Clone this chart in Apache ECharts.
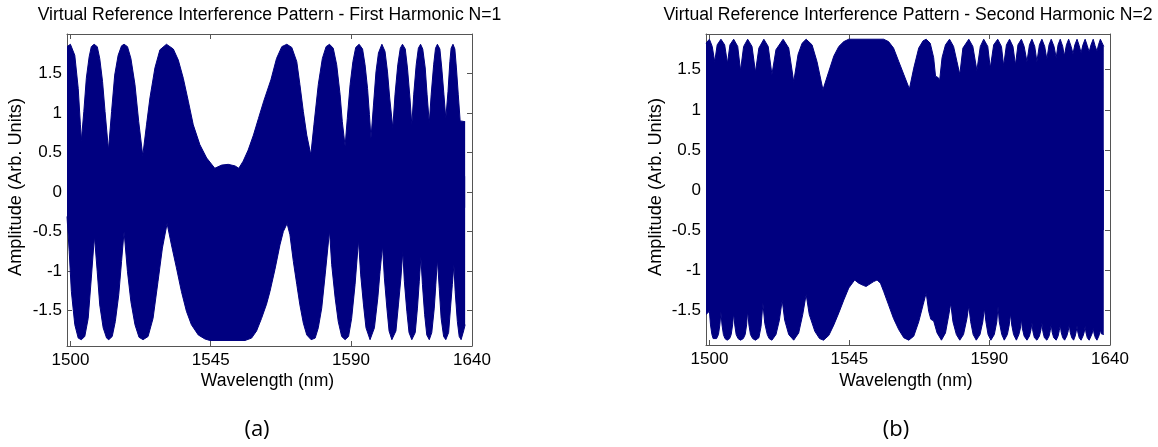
<!DOCTYPE html>
<html><head><meta charset="utf-8">
<script src="https://cdn.jsdelivr.net/npm/echarts@6/dist/echarts.min.js"></script>
<style>html,body{margin:0;padding:0;background:#fff}#c{width:1158px;height:447px}</style>
</head><body><div id="c"></div>
<script>
// ---------- tick labels ----------
const xTickPositions = [1500, 1545, 1590, 1628.8];
const xTickLabels = ['1500', '1545', '1590', '1640'];
const yTicks = [-1.5, -1, -0.5, 0, 0.5, 1, 1.5];

// ---------- texts ----------
const titleA = 'Virtual Reference Interference Pattern - First Harmonic N=1';
const titleB = 'Virtual Reference Interference Pattern - Second Harmonic N=2';
const xName = 'Wavelength (nm)';
const yName = 'Amplitude (Arb. Units)';
const panelLabels = ['(a)', '(b)'];

// ---------- panel (a): first harmonic envelope ----------
const aUpperX = [1498.9,1500.0,1501.4,1502.5,1503.2,1503.5,1504.3,1505.1,1506.0,1506.7,1507.6,1508.6,1509.4,1510.3,1511.1,1512.2,
  1513.2,1514.2,1515.3,1516.4,1517.2,1518.3,1519.4,1520.7,1521.9,1523.2,1524.4,1525.5,1527.1,1528.7,1530.8,1533.0,1534.6,1536.2,
  1537.8,1539.4,1541.5,1543.7,1546.3,1548.5,1550.6,1552.8,1554.0,1555.4,1557.0,1558.7,1560.3,1562.0,1564.3,1566.1,1567.8,1569.4,
  1571.0,1572.6,1573.6,1574.7,1575.8,1577.1,1578.1,1579.5,1580.8,1582.0,1583.1,1584.3,1585.4,1586.5,1587.2,1588.1,
  1588.8,1589.7,1590.6,1591.5,1592.6,1593.7,1594.5,1595.3,1595.9,1596.4,1597.2,1598.0,1598.8,1599.9,1600.9,1601.7,1602.4,1603.4,
  1604.1,1605.0,1605.8,1606.5,1607.4,1608.1,1608.9,1609.5,1610.1,1610.9,1611.6,1612.3,1613.0,1613.8,1614.4,1615.1,
  1615.7,1616.5,1617.1,1617.7,1618.5,1619.1,1619.8,1620.4,1621.1,1621.7,1622.1,1622.7,1623.3,1623.8,1624.4,1625.0,1626.6];
const aUpperY = [1.84,1.87,1.73,1.31,0.85,0.65,1.02,1.44,1.71,1.84,1.87,1.84,1.69,1.40,1.02,0.53,
  1.02,1.48,1.73,1.85,1.87,1.84,1.69,1.36,0.89,0.46,0.85,1.19,1.57,1.80,1.87,1.81,1.67,1.44,
  1.15,0.85,0.60,0.43,0.30,0.34,0.35,0.33,0.30,0.39,0.53,0.72,0.93,1.15,1.42,1.69,1.84,1.87,
  1.83,1.65,1.36,1.02,0.72,0.47,0.85,1.36,1.69,1.84,1.87,1.82,1.61,1.23,0.89,0.58,
  0.93,1.36,1.65,1.83,1.87,1.81,1.61,1.31,0.98,0.68,1.10,1.52,1.76,1.87,1.78,1.52,1.19,0.81,
  1.23,1.61,1.82,1.87,1.81,1.57,1.19,0.85,1.23,1.61,1.82,1.87,1.81,1.57,1.23,0.87,
  1.23,1.61,1.82,1.87,1.81,1.57,1.23,0.93,1.27,1.65,1.82,1.87,1.81,1.57,1.23,0.90,0.89];
const aLowerX = [1498.9,1499.6,1500.3,1501.4,1502.5,1503.5,1504.6,1505.7,1506.7,1507.7,1508.6,1509.4,1510.5,1511.6,1512.3,1513.4,
  1514.4,1515.5,1516.4,1517.2,1518.3,1519.4,1520.7,1522.0,1523.3,1524.9,1526.5,1528.1,1529.5,1531.0,1532.4,1534.0,1535.6,1537.2,
  1538.8,1541.0,1543.1,1544.7,1556.0,1558.1,1559.7,1561.3,1562.9,1564.0,1565.6,1567.2,1568.3,1569.5,
  1570.4,1571.5,1572.6,1573.6,1574.7,1575.8,1577.2,1578.5,1579.5,1580.6,1581.7,1583.1,
  1583.8,1584.9,1585.9,1587.0,1588.1,1589.2,1590.2,1591.3,1592.4,
  1593.1,1594.0,1594.8,1596.1,1597.5,1598.6,1599.3,1600.1,
  1600.7,1601.5,1602.2,1603.1,1604.4,1605.2,1606.0,1606.6,
  1607.1,1607.9,1608.6,1609.5,1610.6,1611.3,1611.9,1612.4,
  1612.9,1613.6,1614.3,1615.1,1615.9,1616.7,1617.2,1617.7,
  1618.3,1618.9,1619.7,1620.4,1621.3,1621.9,1622.5,1623.0,
  1623.4,1624.1,1624.7,1625.3,1626.1,1626.6];
const aLowerY = [-0.31,-0.75,-1.26,-1.68,-1.85,-1.87,-1.83,-1.60,-1.09,-0.56,-1.01,-1.43,-1.72,-1.85,-1.87,-1.83,
  -1.64,-1.30,-0.88,-0.50,-1.01,-1.39,-1.68,-1.84,-1.87,-1.83,-1.60,-1.13,-0.71,-0.40,-0.67,-0.96,-1.26,-1.51,
  -1.68,-1.81,-1.86,-1.88,-1.88,-1.85,-1.76,-1.60,-1.42,-1.26,-0.98,-0.67,-0.50,-0.40,
  -0.54,-0.88,-1.17,-1.43,-1.66,-1.81,-1.87,-1.85,-1.72,-1.47,-1.05,-0.49,
  -0.92,-1.34,-1.64,-1.83,-1.87,-1.83,-1.60,-1.17,-0.61,
  -1.05,-1.43,-1.72,-1.87,-1.72,-1.34,-1.01,-0.68,
  -1.09,-1.47,-1.76,-1.87,-1.76,-1.43,-1.09,-0.75,
  -1.13,-1.51,-1.78,-1.87,-1.78,-1.47,-1.13,-0.82,
  -1.17,-1.55,-1.81,-1.87,-1.78,-1.47,-1.17,-0.85,
  -1.22,-1.60,-1.83,-1.87,-1.78,-1.47,-1.17,-0.92,
  -1.26,-1.64,-1.83,-1.87,-1.76,-1.68];

// ---------- panel (b): second harmonic envelope ----------
const bUpperX = [1498.9,1500.0,1500.9,1501.7,1502.5,1503.7,1504.9,1505.8,1506.6,1507.8,1509.1,1510.0,1511.0,1512.3,1513.7,1514.8,
  1515.9,1517.5,1518.9,1520.1,1521.4,1523.7,1525.5,1527.1,1528.5,1529.8,1531.1,1533.0,1534.6,1536.5,1538.4,1540.0,1541.6,1543.2,
  1544.8,1556.0,1557.6,1559.2,1560.9,1562.5,1564.3,1565.7,1567.3,1568.7,1569.7,1571.0,1572.1,1572.7,1573.6,1574.0,1574.8,1575.9,
  1577.2,1578.5,1579.6,1580.5,1581.5,1583.4,1584.7,1586.0,1587.1,1588.2,1589.5,1590.3,1591.4,1592.7,1593.9,1594.6,1595.5,1596.5,
  1597.6,1598.4,1599.2,1600.3,1601.2,1602.1,1602.9,1603.7,1604.6,1605.3,1606.1,1606.9,1607.8,1608.5,1609.2,1609.9,1610.8,1611.5,
  1612.1,1612.8,1613.6,1614.1,1614.8,1615.5,1616.3,1616.9,1617.5,1618.2,1618.9,1619.5,1620.1,1620.8,1621.5,1622.1,1622.7,1623.4,
  1624.0,1624.6,1625.1,1625.7,1626.8];
const bUpperY = [1.83,1.88,1.79,1.60,1.81,1.88,1.81,1.58,1.81,1.88,1.79,1.49,1.79,1.88,1.79,1.47,
  1.77,1.88,1.79,1.44,1.75,1.88,1.77,1.35,1.69,1.83,1.88,1.81,1.60,1.25,1.48,1.67,1.79,1.85,
  1.88,1.88,1.85,1.77,1.60,1.44,1.26,1.52,1.77,1.86,1.88,1.83,1.65,1.42,1.40,1.36,1.65,1.81,
  1.88,1.79,1.60,1.44,1.77,1.88,1.79,1.49,1.79,1.88,1.79,1.52,1.81,1.88,1.79,1.55,1.81,1.88,
  1.79,1.56,1.81,1.88,1.79,1.60,1.81,1.88,1.79,1.60,1.81,1.88,1.79,1.63,1.81,1.88,1.79,1.65,
  1.81,1.88,1.79,1.67,1.81,1.88,1.79,1.70,1.81,1.88,1.80,1.71,1.81,1.88,1.80,1.72,1.81,1.88,
  1.80,1.73,1.81,1.88,1.79];
const bLowerX = [1498.9,1500.0,1500.35,1500.8,1501.2,1501.7,1502.3,1502.9,1503.35,1503.7,1504.05,1504.5,1505.0,1505.7,
  1506.5,1507.0,1507.45,1507.8,1508.15,1508.6,1509.2,1510.0,1510.9,1511.5,1511.95,1512.3,1512.7,1513.2,1513.9,1514.8,
  1515.9,1516.6,1517.2,1517.8,1518.6,1519.2,1520.1,1521.4,1522.5,1523.4,1524.2,1525.5,1527.1,1528.7,1530.0,1531.1,
  1532.1,1533.9,1535.4,1536.7,1538.4,1540.0,1541.6,1543.2,1544.8,1546.7,1548.0,1549.6,1550.4,1551.2,1552.8,1553.9,
  1555.0,1556.0,1557.6,1559.2,1560.9,1562.5,1564.1,1565.7,1567.3,1568.7,1569.7,
  1570.5,1571.2,1572.1,1573.2,1574.6,1575.9,1576.9,1577.6,1578.3,1579.4,1580.5,
  1581.7,1582.8,1583.4,1584.0,1584.8,1585.8,
  1587.0,1587.9,1588.4,1588.9,1589.6,1590.5,
  1591.6,1592.4,1592.8,1593.2,1594.0,1594.8,
  1595.8,1596.4,1596.8,1597.2,1597.8,1598.7,
  1599.5,1600.0,1600.3,1600.6,1601.2,1602.1,
  1602.9,1603.4,1603.7,1604.0,1604.5,1605.3,
  1606.1,1606.6,1606.9,1607.2,1607.7,1608.5,
  1609.2,1609.6,1609.9,1610.2,1610.7,1611.5,
  1612.1,1612.5,1612.8,1613.1,1613.6,1614.2,
  1614.9,1615.4,1615.7,1616.0,1616.5,1617.1,
  1617.6,1617.95,1618.2,1618.45,1618.9,1619.5,
  1620.1,1620.5,1620.8,1621.1,1621.5,1622.1,
  1622.7,1623.1,1623.4,1623.7,1624.1,1624.6,
  1625.2,1625.5,1625.7,1626.0,1626.8];
const bLowerY = [-1.55,-1.51,-1.68,-1.80,-1.85,-1.87,-1.85,-1.80,-1.68,-1.52,-1.68,-1.80,-1.85,-1.87,
  -1.85,-1.80,-1.68,-1.53,-1.68,-1.80,-1.85,-1.87,-1.85,-1.80,-1.68,-1.50,-1.68,-1.80,-1.85,-1.87,
  -1.84,-1.70,-1.41,-1.66,-1.80,-1.85,-1.87,-1.80,-1.62,-1.37,-1.62,-1.80,-1.87,-1.78,-1.55,-1.30,
  -1.55,-1.76,-1.85,-1.87,-1.81,-1.68,-1.53,-1.37,-1.22,-1.12,-1.16,-1.19,-1.20,-1.18,-1.14,-1.12,
  -1.16,-1.26,-1.43,-1.60,-1.74,-1.84,-1.87,-1.82,-1.64,-1.43,-1.28,
  -1.51,-1.61,-1.63,-1.78,-1.87,-1.78,-1.57,-1.41,-1.64,-1.80,-1.87,
  -1.80,-1.60,-1.44,-1.64,-1.80,-1.87,
  -1.80,-1.64,-1.47,-1.64,-1.80,-1.87,
  -1.80,-1.64,-1.45,-1.64,-1.80,-1.87,
  -1.80,-1.68,-1.54,-1.68,-1.80,-1.87,
  -1.80,-1.72,-1.60,-1.72,-1.82,-1.87,
  -1.82,-1.74,-1.65,-1.76,-1.84,-1.87,
  -1.82,-1.74,-1.65,-1.76,-1.84,-1.87,
  -1.82,-1.75,-1.67,-1.77,-1.84,-1.87,
  -1.82,-1.75,-1.68,-1.77,-1.84,-1.87,
  -1.82,-1.75,-1.67,-1.77,-1.84,-1.87,
  -1.82,-1.76,-1.69,-1.77,-1.84,-1.87,
  -1.82,-1.77,-1.70,-1.78,-1.84,-1.87,
  -1.82,-1.78,-1.72,-1.79,-1.84,-1.87,
  -1.82,-1.78,-1.74,-1.79,-1.80];

// ---------- styling ----------
const NAVY = '#000080';
const AX = '#555';
const FONT = '"Liberation Sans", Arial, sans-serif';
const grids = [
  {left: 67, top: 34, width: 405, height: 312},
  {left: 706, top: 34, width: 404, height: 311}
];
const yRanges = [[-1.95, 2.0], [-1.93, 1.945]];
const xRange = [1498.9, 1628.8];

function pairs(xs, ys) { return xs.map((x, i) => [x, ys[i]]); }
function xLabel(v) {
  let best = 0;
  xTickPositions.forEach((p, i) => { if (Math.abs(p - v) < Math.abs(xTickPositions[best] - v)) best = i; });
  return xTickLabels[best];
}

const xAxes = [], yAxes = [];
grids.forEach((g, gi) => {
  xAxes.push({
    type: 'value', gridIndex: gi, position: 'bottom', min: xRange[0], max: xRange[1],
    axisLine: {show: true, onZero: false, lineStyle: {color: AX, width: 1}},
    axisTick: {show: true, inside: true, length: 5, customValues: xTickPositions, lineStyle: {color: AX}},
    axisLabel: {show: true, customValues: xTickPositions, formatter: xLabel, color: '#000',
      fontFamily: FONT, fontSize: 17, margin: 6},
    splitLine: {show: false}
  });
  xAxes.push({
    type: 'value', gridIndex: gi, position: 'top', min: xRange[0], max: xRange[1],
    axisLine: {show: true, onZero: false, lineStyle: {color: AX, width: 1}},
    axisTick: {show: true, inside: true, length: 5, customValues: xTickPositions, lineStyle: {color: AX}},
    axisLabel: {show: false}, splitLine: {show: false}
  });
  yAxes.push({
    type: 'value', gridIndex: gi, position: 'left', min: yRanges[gi][0], max: yRanges[gi][1],
    axisLine: {show: true, onZero: false, lineStyle: {color: AX, width: 1}},
    axisTick: {show: true, inside: true, length: 5, customValues: yTicks, lineStyle: {color: AX}},
    axisLabel: {show: true, customValues: yTicks, color: '#000', fontFamily: FONT, fontSize: 17, margin: 5},
    splitLine: {show: false}
  });
  yAxes.push({
    type: 'value', gridIndex: gi, position: 'right', min: yRanges[gi][0], max: yRanges[gi][1],
    axisLine: {show: true, onZero: false, lineStyle: {color: AX, width: 1}},
    axisTick: {show: true, inside: true, length: 5, customValues: yTicks, lineStyle: {color: AX}},
    axisLabel: {show: false}, splitLine: {show: false}
  });
});

function band(data, axisIdx, origin) {
  return {
    type: 'line', xAxisIndex: axisIdx, yAxisIndex: axisIdx, data: data,
    symbol: 'none', showSymbol: false, silent: true, animation: false,
    lineStyle: {color: NAVY, width: 1}, itemStyle: {color: NAVY},
    areaStyle: {color: NAVY, opacity: 1, origin: origin}, z: 2
  };
}

const series = [
  band(pairs(aUpperX, aUpperY), 0, -0.2),
  band(pairs(aLowerX, aLowerY), 0, 0.2),
  band(pairs(bUpperX, bUpperY), 2, -0.5),
  band(pairs(bLowerX, bLowerY), 2, 0.5)
];

const centers = grids.map(g => g.left + g.width / 2);
const TF = '17.6px ' + FONT;
const graphic = [
  {type: 'text', x: centers[0], y: 15, style: {text: titleA, textAlign: 'center', textVerticalAlign: 'middle', font: TF, fill: '#000'}},
  {type: 'text', x: centers[1], y: 15, style: {text: titleB, textAlign: 'center', textVerticalAlign: 'middle', font: TF, fill: '#000'}},
  {type: 'text', x: centers[0] - 2, y: 381, style: {text: xName, textAlign: 'center', textVerticalAlign: 'middle', font: TF, fill: '#000'}},
  {type: 'text', x: centers[1] - 2, y: 381, style: {text: xName, textAlign: 'center', textVerticalAlign: 'middle', font: TF, fill: '#000'}},
  {type: 'text', x: 16, y: 187, rotation: Math.PI / 2, style: {text: yName, textAlign: 'center', textVerticalAlign: 'middle', font: '18.2px ' + FONT, fill: '#000'}},
  {type: 'text', x: 656, y: 187, rotation: Math.PI / 2, style: {text: yName, textAlign: 'center', textVerticalAlign: 'middle', font: '18.2px ' + FONT, fill: '#000'}},
  {type: 'text', x: 257, y: 430, style: {text: panelLabels[0], textAlign: 'center', textVerticalAlign: 'middle', font: '22px "Open Sans", sans-serif', fill: '#000'}},
  {type: 'text', x: 896, y: 430, style: {text: panelLabels[1], textAlign: 'center', textVerticalAlign: 'middle', font: '22px "Open Sans", sans-serif', fill: '#000'}}
];

const chart = echarts.init(document.getElementById('c'), null, {renderer: 'canvas'});
chart.setOption({
  animation: false,
  backgroundColor: '#fff',
  grid: grids.map(g => Object.assign({containLabel: false}, g)),
  xAxis: xAxes,
  yAxis: yAxes,
  series: series,
  graphic: graphic
});
</script>
</body></html>
